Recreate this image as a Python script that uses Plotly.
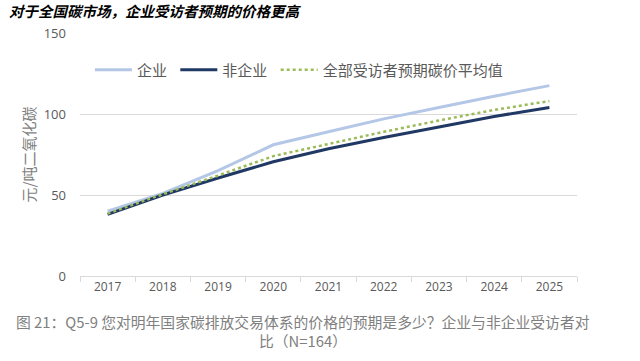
import plotly.graph_objects as go

years = ["2017", "2018", "2019", "2020", "2021", "2022", "2023", "2024", "2025"]
enterprise = [40, 51, 65, 81, 89, 97, 104, 111, 117.5]
non_enterprise = [38, 50, 60.5, 70.5, 78.5, 85.5, 92, 98.5, 104]
all_avg = [38.5, 50.5, 62, 74, 81.5, 89, 96, 102.5, 108]

series_names = ["企业", "非企业", "全部受访者预期碳价平均值"]
y_ticks = [0, 50, 100, 150]

title_text = "对于全国碳市场，企业受访者预期的价格更高"
y_title = "元/吨二氧化碳"
caption1 = "图 21：Q5-9 您对明年国家碳排放交易体系的价格的预期是多少？企业与非企业受访者对"
caption2 = "比（N=164）"

CJK = "Noto Sans CJK SC"
GRAY = "#595959"
NB = "\u00a0"

fig = go.Figure()
fig.add_trace(go.Scatter(x=years, y=enterprise, name=series_names[0] + NB, mode="lines",
                         line=dict(color="#b4c7e7", width=3)))
fig.add_trace(go.Scatter(x=years, y=non_enterprise, name=series_names[1] + NB, mode="lines",
                         line=dict(color="#203864", width=3)))
fig.add_trace(go.Scatter(x=years, y=all_avg, name=series_names[2], mode="lines",
                         line=dict(color="#9bbb59", width=2.5, dash="dot")))

fig.update_layout(
    width=640, height=361,
    margin=dict(l=80, r=63, t=33, b=85),
    paper_bgcolor="white", plot_bgcolor="white",
    font=dict(family=CJK, color=GRAY),
    showlegend=True,
    legend=dict(orientation="h", x=0.02, y=0.848, xanchor="left", yanchor="middle",
                bgcolor="rgba(0,0,0,0)", font=dict(family=CJK, size=15, color=GRAY),
                itemwidth=37, tracegroupgap=0),
    xaxis=dict(type="category", range=[-0.5, 8.5], showgrid=False,
               showline=True, linecolor="#d9d9d9", linewidth=1,
               ticks="outside", tickson="boundaries", ticklen=5, tickcolor="#d9d9d9",
               tickfont=dict(family="Open Sans", size=12, color=GRAY), zeroline=False),
    yaxis=dict(range=[0, 150], tickvals=y_ticks, showgrid=True, gridcolor="#d9d9d9",
               gridwidth=1, zeroline=False, showline=False, ticklabelstandoff=13,
               tickfont=dict(family="Open Sans", size=13, color=GRAY),
               title=dict(text=y_title, font=dict(family=CJK, size=15, color="#7f7f7f"), standoff=4)),
    annotations=[
        dict(text="<b><i>" + title_text + "</i></b>", xref="paper", yref="paper",
             x=-0.147, y=1.092, xanchor="left", yanchor="middle", showarrow=False,
             font=dict(family=CJK, size=14.5, color="black")),
        dict(text=caption1, xref="paper", yref="paper", x=0.448, y=-0.189,
             xanchor="center", yanchor="middle", showarrow=False,
             font=dict(family=CJK, size=14.8, color="#808080")),
        dict(text=caption2, xref="paper", yref="paper", x=0.448, y=-0.267,
             xanchor="center", yanchor="middle", showarrow=False,
             font=dict(family=CJK, size=14.8, color="#808080")),
    ],
)

fig.write_html("out.html", config={"displayModeBar": False},
               post_script="document.body.style.margin='0';")
